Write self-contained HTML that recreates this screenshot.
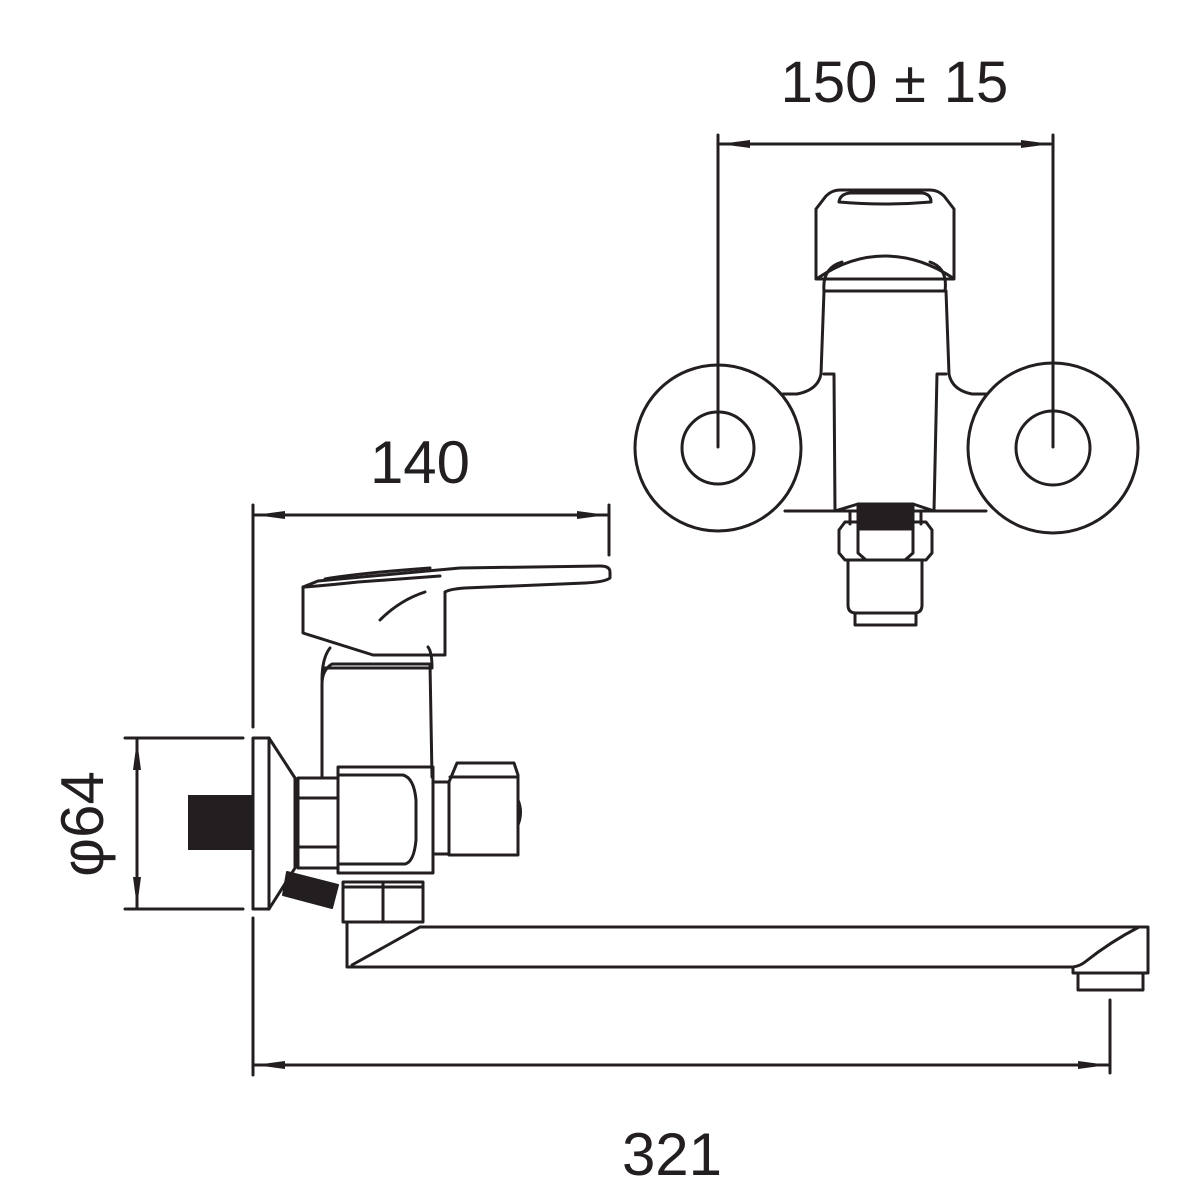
<!DOCTYPE html>
<html><head><meta charset="utf-8"><style>
html,body{margin:0;padding:0;background:#fff;}
svg{display:block;}
text{font-family:"Liberation Sans",Arial,sans-serif;fill:#231f20;}
</style></head><body>
<svg width="1200" height="1200" viewBox="0 0 1200 1200" xmlns="http://www.w3.org/2000/svg">
<defs>
<marker id="a" viewBox="0 0 30 10" refX="30" refY="5" markerWidth="30" markerHeight="10" markerUnits="userSpaceOnUse" orient="auto-start-reverse">
<path d="M0,1 L30,5 L0,9 Z" fill="#231f20"/></marker>
</defs>
<g fill="none" stroke="#231f20" stroke-width="3" stroke-linejoin="round" stroke-linecap="round">

<!-- TOP VIEW -->
<text x="829" y="102" font-size="58" text-anchor="middle" stroke="none">150</text>
<text x="910" y="102" font-size="58" text-anchor="middle" stroke="none">±</text>
<text x="976" y="102" font-size="58" text-anchor="middle" stroke="none">15</text>
<line x1="718" y1="135" x2="718" y2="447"/>
<line x1="1053" y1="135" x2="1053" y2="447"/>
<line x1="720" y1="144" x2="1051" y2="144" marker-start="url(#a)" marker-end="url(#a)"/>

<circle cx="718" cy="448" r="83"/>
<circle cx="718" cy="448" r="36"/>
<circle cx="1053" cy="448" r="85"/>
<circle cx="1053" cy="448" r="37"/>

<!-- handle -->
<path d="M816,209 L816,279 L954,279 L954,209 L944,196 Q938,190 930,190 L840,190 Q832,190 826,196 Z"/>
<path d="M839,202 Q840,194 850,193 L922,193 Q931,194 931,202 Q885,206 839,202 Z"/>
<path d="M818,278 Q850,256 885,256 Q920,256 953,278"/>
<path d="M824,291 Q822,268 842,262 M945,291 Q948,268 930,262"/>
<line x1="824" y1="291" x2="946" y2="291"/>
<path d="M824,291 L821,374 Q818,390 797,394 L783,394"/>
<path d="M946,291 L949,374 Q952,390 972,394 L986,394"/>
<path d="M834,374 L824,374 M834,374 L835,511"/>
<path d="M937,374 L946,374 M937,374 L934,511"/>
<line x1="785" y1="511" x2="986" y2="511"/>
<path d="M835,511 L858,504 L913,504 L934,511"/>
<!-- thread -->
<rect x="858" y="504" width="55" height="25" fill="#231f20"/>
<line x1="850" y1="512" x2="850" y2="524"/><line x1="921" y1="512" x2="921" y2="524"/>
<!-- nut -->
<path d="M845,522 L926,522 L932,530 L932,553 L926,560 L845,560 L839,553 L839,530 Z"/>
<path d="M861,522 L858,530 L858,553 L866,560 M908,522 L913,530 L913,553 L905,560"/>
<path d="M848,560 L848,605 Q848,613 856,613 L914,613 Q922,613 922,605 L922,560"/>
<path d="M855,613 L855,625 L916,625 L916,613"/>

<!-- SIDE VIEW -->
<text x="420" y="483" font-size="60" text-anchor="middle" stroke="none">140</text>
<line x1="253" y1="505" x2="253" y2="727"/>
<line x1="253" y1="918" x2="253" y2="1075"/>
<line x1="609" y1="505" x2="609" y2="555"/>
<line x1="255" y1="515" x2="607" y2="515" marker-start="url(#a)" marker-end="url(#a)"/>

<text x="0" y="0" font-size="60" text-anchor="middle" stroke="none" transform="translate(103,824) rotate(-90)">φ64</text>
<line x1="125" y1="738" x2="243" y2="738"/>
<line x1="125" y1="909" x2="243" y2="909"/>
<line x1="137" y1="740" x2="137" y2="907" marker-start="url(#a)" marker-end="url(#a)"/>

<!-- wall plate & thread -->
<rect x="188" y="795" width="66" height="55" fill="#231f20" stroke="none"/>
<rect x="253" y="738" width="16" height="171"/>
<path d="M269,738 L295,778 L295,868 L269,909"/>
<path d="M287,872 L338,885 L332,908 L283,895 Z" fill="#231f20" stroke-width="2"/>
<!-- hex nut -->
<path d="M298,778 L338,778 L338,868 L298,868 Z"/>
<line x1="298" y1="798" x2="338" y2="798"/><line x1="298" y1="847" x2="338" y2="847"/>
<!-- body -->
<rect x="338" y="767" width="95" height="106"/>
<path d="M340,775 L403,775 Q414,778 416,800 L416,840 Q414,862 405,864 L340,864"/>
<!-- column -->
<path d="M322,777 L322,684 Q322,670 332,664 L430,664 L432,777"/>
<path d="M322,680 Q322,658 330,648 M432,668 Q432,652 428,647"/>
<line x1="323" y1="668" x2="431" y2="668"/>
<!-- handle -->
<path d="M303,587 L303,633 L373,655 L445,655 L445,592"/>
<path d="M303,587 L318,581 L460,568 L600,566 Q610,566 610,572 L610,578 Q605,582 585,583 L465,588 Q450,589 445,592"/>
<path d="M305,587 Q330,585 358,582 L440,576"/>
<path d="M325,579 Q360,573 430,568"/>
<path d="M380,620 Q400,600 425,592"/>
<!-- right connector -->
<rect x="433" y="782" width="16" height="72"/>
<path d="M449,855 L449,782 L457,763 L514,763 L518,775 L518,855 Z"/>
<line x1="450" y1="777" x2="518" y2="777"/>
<path d="M518,800 Q523,812 518,825"/>
<!-- lower nut -->
<rect x="343" y="882" width="80" height="40"/>
<line x1="383" y1="883" x2="383" y2="921"/>
<line x1="343" y1="887" x2="423" y2="887"/>
<!-- spout -->
<path d="M347,923 L347,967 L1073,967 L1073,973 L1148,973 L1148,927 L420,927"/>
<path d="M420,927 L352,965"/>
<path d="M1139,927 Q1110,942 1085,962 Q1080,966 1073,967"/>
<path d="M1078,973 L1078,990 L1143,990 L1143,973"/>
<!-- 321 -->
<line x1="1110" y1="1000" x2="1110" y2="1073"/>
<line x1="255" y1="1065" x2="1108" y2="1065" marker-start="url(#a)" marker-end="url(#a)"/>
<text x="672" y="1175" font-size="60" text-anchor="middle" stroke="none">321</text>
</g>
</svg>
</body></html>
